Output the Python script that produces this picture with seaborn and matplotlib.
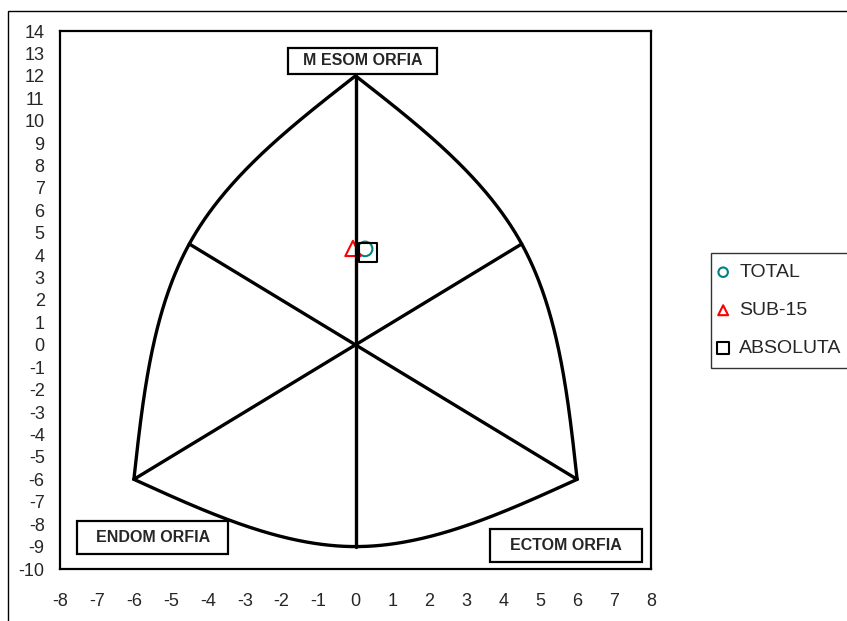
import numpy as np
import pandas as pd
import matplotlib
matplotlib.use("Agg")
import matplotlib.pyplot as plt
from matplotlib.patches import Rectangle
import seaborn as sns

# somatochart outline: poles, arc midpoints and the centre
meso_pole = (0.0, 12.0)
endo_pole = (-6.0, -6.0)
ecto_pole = (6.0, -6.0)
left_mid = (-4.5, 4.5)
right_mid = (4.5, 4.5)
bottom_mid = (0.0, -9.0)
centre = (0.0, 0.0)

# somatotype points
groups = ["TOTAL", "SUB-15", "ABSOLUTA"]
group_x = [0.26, -0.07, 0.34]
group_y = [4.28, 4.30, 4.12]
group_colors = ["#008080", "#ff0000", "#000000"]
group_markers = ["o", "^", "s"]
group_sizes = [110, 120, 170]

x_ticks = list(range(-8, 9))
y_ticks = list(range(-10, 15))


def smooth_line(p0, p1, p2, n=120):
    # natural cubic spline through three points, drawn as two Hermite pieces
    p0, p1, p2 = (np.asarray(p, dtype=float) for p in (p0, p1, p2))
    t1 = (p2 - p0) / 2
    t0 = (3 * (p1 - p0) - t1) / 2
    t2 = (3 * (p2 - p1) - t1) / 2
    t = np.linspace(0, 1, n)[:, None]
    h00 = 2 * t**3 - 3 * t**2 + 1
    h10 = t**3 - 2 * t**2 + t
    h01 = -2 * t**3 + 3 * t**2
    h11 = t**3 - t**2
    seg_a = h00 * p0 + h10 * t0 + h01 * p1 + h11 * t1
    seg_b = h00 * p1 + h10 * t1 + h01 * p2 + h11 * t2
    out = np.vstack([seg_a, seg_b])
    return out[:, 0], out[:, 1]


sns.set_theme(style="white")
plt.rcParams["font.family"] = ["Liberation Sans", "DejaVu Sans"]

fig = plt.figure(figsize=(8.47, 6.21), dpi=100)
ax = fig.add_axes([60 / 847, 1 - 569 / 621, 591 / 847, 538 / 621])

outline_kw = dict(color="black", lw=2.4, solid_capstyle="round",
                  solid_joinstyle="round", zorder=3)
for a, m, b in [(endo_pole, left_mid, meso_pole),
                (ecto_pole, right_mid, meso_pole),
                (endo_pole, bottom_mid, ecto_pole)]:
    xs, ys = smooth_line(a, m, b)
    ax.plot(xs, ys, **outline_kw)

for end in [endo_pole, ecto_pole, left_mid, right_mid]:
    ax.plot([centre[0], end[0]], [centre[1], end[1]], **outline_kw)
ax.plot([meso_pole[0], bottom_mid[0]], [meso_pole[1], bottom_mid[1]], **outline_kw)

points = pd.DataFrame({"grupo": groups, "x": group_x, "y": group_y})
for name, col, mk, sz in zip(groups, group_colors, group_markers, group_sizes):
    sub = points[points["grupo"] == name]
    sns.scatterplot(data=sub, x="x", y="y", ax=ax, marker=mk, s=sz,
                    facecolors="none", edgecolor=col, linewidth=1.5,
                    label=name, zorder=2)

# pole labels
labels = [("M ESOM ORFIA", (-1.83, 12.09, 4.04, 1.16)),
          ("ENDOM ORFIA", (-7.53, -9.35, 4.09, 1.47)),
          ("ECTOM ORFIA", (3.64, -9.67, 4.11, 1.47))]
for text, (bx, by, bw, bh) in labels:
    ax.add_patch(Rectangle((bx, by), bw, bh, fill=True, fc="white",
                           ec="black", lw=1.6, zorder=4))
    ax.text(bx + bw / 2, by + bh / 2, text, ha="center", va="center",
            fontsize=11.5, fontweight="bold", zorder=5)

ax.set_xlim(-8, 8)
ax.set_ylim(-10, 14)
ax.set_xticks(x_ticks)
ax.set_yticks(y_ticks)
ax.set_xticklabels([str(v) for v in x_ticks], fontsize=13)
ax.set_yticklabels([str(v) for v in y_ticks], fontsize=13)
ax.tick_params(axis="x", length=0, pad=17)
ax.tick_params(axis="y", length=0, pad=11)
ax.set_xlabel("")
ax.set_ylabel("")
for sp in ax.spines.values():
    sp.set_color("black")
    sp.set_linewidth(1.6)

leg = ax.legend(loc="upper left", bbox_to_anchor=(711 / 847, 1 - 253 / 621),
                bbox_transform=fig.transFigure, frameon=True, fancybox=False,
                edgecolor="black", fontsize=14, markerscale=0.65,
                handlelength=0.15, handletextpad=0.75, labelspacing=1.05,
                borderpad=0.55, borderaxespad=0)
leg.get_frame().set_linewidth(1.0)

# outer chart border
fig.patches.append(Rectangle((8 / 847, -0.05), 1.2, 1 - 11 / 621 + 0.05,
                             transform=fig.transFigure, fill=False,
                             ec="black", lw=1.0))

fig.savefig("out.png", dpi=100)
